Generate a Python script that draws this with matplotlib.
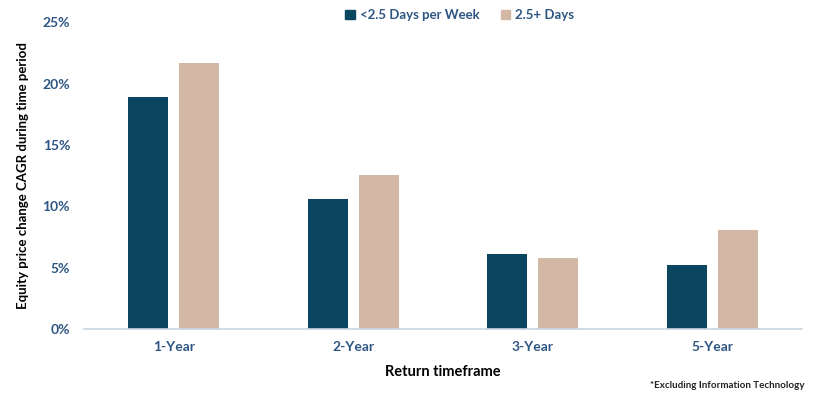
import numpy as np
import matplotlib.pyplot as plt
from matplotlib.patches import Patch

# values (percent)
categories = ["1-Year", "2-Year", "3-Year", "5-Year"]
under_25 = [18.95, 10.6, 6.1, 5.25]
over_25 = [21.7, 12.55, 5.75, 8.05]
series_names = ["<2.5 Days per Week", "2.5+ Days"]
yticks = [0, 5, 10, 15, 20, 25]

dark = "#0B4660"
tan = "#D3B8A5"
label_blue = "#2E5683"

plt.rcParams['font.family'] = ['Lato', 'DejaVu Sans']

fig = plt.figure(figsize=(8.33, 3.97), dpi=100)
ax = fig.add_axes([0.1008, 0.1713, 0.862, 0.7723])

x = np.arange(len(categories))
w = 0.223
off = 0.142
ax.bar(x - off, under_25, w, color=dark)
ax.bar(x + off, over_25, w, color=tan)

ax.set_xlim(-0.5, 3.5)
ax.set_ylim(0, 25)
ax.set_yticks(yticks)
ax.set_yticklabels([f"{v}%" for v in yticks])
ax.set_xticks(x)
ax.set_xticklabels(categories)

for s in ["top", "right", "left"]:
    ax.spines[s].set_visible(False)
ax.spines["bottom"].set_color("#C9D6E3")
ax.spines["bottom"].set_linewidth(1.2)
ax.tick_params(axis="both", length=0, labelsize=10, labelcolor=label_blue)
ax.tick_params(axis="x", pad=9)
ax.tick_params(axis="y", pad=10)
for t in ax.get_xticklabels() + ax.get_yticklabels():
    t.set_fontweight("bold")

ax.set_ylabel("Equity price change CAGR during time period", fontsize=9.5,
              fontweight="bold", color="black", labelpad=10)
ax.set_xlabel("Return timeframe", fontsize=10.5, fontweight="bold",
              color="black", labelpad=8)

handles = [Patch(color=dark), Patch(color=tan)]
leg = fig.legend(handles, series_names, loc="center", ncol=2,
                 bbox_to_anchor=(0.552, 0.962), frameon=False,
                 handlelength=0.7, handleheight=0.7, handletextpad=0.4,
                 columnspacing=1.6,
                 prop={"size": 9.5, "weight": "bold"})
for t in leg.get_texts():
    t.set_color(label_blue)

fig.text(0.966, 0.03, "*Excluding Information Technology", ha="right",
         va="center", fontsize=7, fontweight="bold", color="#222222")

fig.savefig("out.png", dpi=100)
